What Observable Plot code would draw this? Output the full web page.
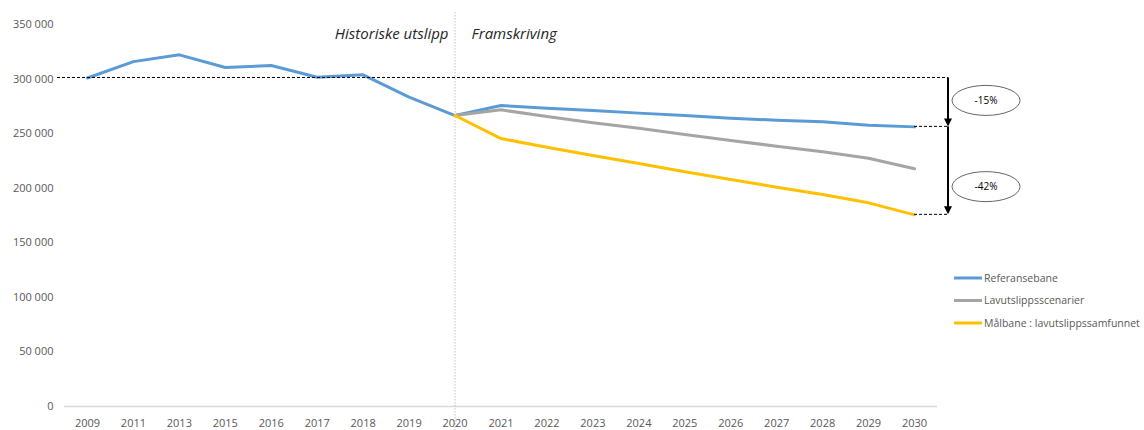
<!DOCTYPE html>
<html><head><meta charset="utf-8">
<script src="https://cdn.jsdelivr.net/npm/d3@7"></script>
<script src="https://cdn.jsdelivr.net/npm/@observablehq/plot@0.6"></script>
<style>
body{margin:0;background:#fff;font-family:"Open Sans",sans-serif;}
</style></head><body><div id="chart"></div>
<script>
// ---- data ----
const years = ["2009","2011","2013","2015","2016","2017","2018","2019","2020","2021","2022","2023","2024","2025","2026","2027","2028","2029","2030"];
const referansebane = [301000,316000,322200,310600,312400,301700,303900,283400,266600,275800,273300,271200,268800,266600,264200,262300,260800,257800,256200];
const projYears = ["2020","2021","2022","2023","2024","2025","2026","2027","2028","2029","2030"];
const lavutslipp = [266600,271800,265700,259900,255000,249200,243700,238500,233400,227500,217800];
const maalbane = [266600,245500,237600,230000,222600,215000,208000,200900,194200,186600,175600];
const seriesNames = ["Referansebane","Lavutslippsscenarier","Målbane : lavutslippssamfunnet"];
const seriesColors = ["#5B9BD5","#A5A5A5","#FFC000"];
const yTicks = [0,50000,100000,150000,200000,250000,300000,350000];
const periodLabels = ["Historiske utslipp","Framskriving"];
const dividerYear = "2020";
const changeLabels = ["-15%","-42%"];

// ---- tidy rows ----
const rows = [
  ...years.map((yr,i)=>({year:yr,value:referansebane[i],series:seriesNames[0]})),
  ...projYears.map((yr,i)=>({year:yr,value:lavutslipp[i],series:seriesNames[1]})),
  ...projYears.map((yr,i)=>({year:yr,value:maalbane[i],series:seriesNames[2]}))
];
const fmt = d => d3.format(",")(d).replace(/,/g," ");

const chart = Plot.plot({
  width:1144, height:430,
  marginLeft:64, marginRight:207, marginTop:24, marginBottom:24,
  style:{fontFamily:"'Open Sans', sans-serif", fontSize:"11px", color:"#595959", background:"#fff"},
  x:{type:"point", domain:years, padding:0.5, round:false, label:null},
  y:{domain:[0,350000], label:null},
  color:{domain:seriesNames, range:seriesColors},
  marks:[
    Plot.ruleY([0],{stroke:"#d9d9d9", strokeWidth:1.3}),
    Plot.ruleX([dividerYear],{stroke:"#bfbfbf", strokeDasharray:"1.5,1.5", insetTop:-12, insetBottom:-24}),
    Plot.axisY({ticks:yTicks, tickSize:0, tickPadding:11, tickFormat:fmt, label:null}),
    Plot.axisX({tickSize:0, tickPadding:13, label:null}),
    Plot.lineY(rows,{x:"year", y:"value", z:"series", stroke:"series", strokeWidth:3})
  ]
});
document.getElementById("chart").appendChild(chart);

// ---- annotations ----
const xs = chart.scale("x"), ys = chart.scale("y");
const svg = d3.select(chart);
const g = svg.append("g").attr("text-anchor","start");
const startVal = referansebane[0];
const refEnd = referansebane[referansebane.length-1];
const maalEnd = maalbane[maalbane.length-1];
const xEnd = xs.apply(years[years.length-1]);
const xArrow = xEnd + 34;

// dashed reference lines
g.append("line").attr("x1",57).attr("x2",xArrow).attr("y1",ys.apply(startVal)).attr("y2",ys.apply(startVal))
  .attr("stroke","#000").attr("stroke-width",1).attr("stroke-dasharray","3,2");
[refEnd,maalEnd].forEach(v=>{
  g.append("line").attr("x1",xEnd).attr("x2",xArrow).attr("y1",ys.apply(v)).attr("y2",ys.apply(v))
    .attr("stroke","#000").attr("stroke-width",1).attr("stroke-dasharray","3,2");
});
// arrows
function arrow(v1,v2){
  const y1 = ys.apply(v1), y2 = ys.apply(v2);
  g.append("line").attr("x1",xArrow).attr("x2",xArrow).attr("y1",y1).attr("y2",y2-6)
    .attr("stroke","#000").attr("stroke-width",2);
  g.append("path").attr("d",`M${xArrow-4},${y2-8}L${xArrow+4},${y2-8}L${xArrow},${y2}Z`).attr("fill","#000");
}
arrow(startVal,refEnd);
arrow(refEnd,maalEnd);
// ellipses with labels
[[280000,changeLabels[0]],[201000,changeLabels[1]]].forEach(([v,t])=>{
  const cy = ys.apply(v), cx = xArrow+38;
  g.append("ellipse").attr("cx",cx).attr("cy",cy).attr("rx",34).attr("ry",15)
    .attr("fill","#fff").attr("stroke","#404040").attr("stroke-width",0.8);
  g.append("text").attr("x",cx).attr("y",cy).attr("dy","0.35em").attr("text-anchor","middle")
    .attr("font-size",10).attr("fill","#000").text(t);
});
// period labels
const xDiv = xs.apply(dividerYear);
g.append("text").attr("x",xDiv-6).attr("y",39).attr("text-anchor","end").attr("font-style","italic")
  .attr("font-size",15).attr("fill","#262626").text(periodLabels[0]);
g.append("text").attr("x",xDiv+17).attr("y",39).attr("text-anchor","start").attr("font-style","italic")
  .attr("font-size",15).attr("fill","#262626").text(periodLabels[1]);
// legend
seriesNames.forEach((name,i)=>{
  const ly = 278 + i*22.5;
  g.append("line").attr("x1",954).attr("x2",982).attr("y1",ly).attr("y2",ly)
    .attr("stroke",seriesColors[i]).attr("stroke-width",3);
  g.append("text").attr("x",984).attr("y",ly).attr("dy","0.35em").attr("text-anchor","start").attr("font-size",10.5)
    .attr("fill","#595959").text(name);
});
</script></body></html>
